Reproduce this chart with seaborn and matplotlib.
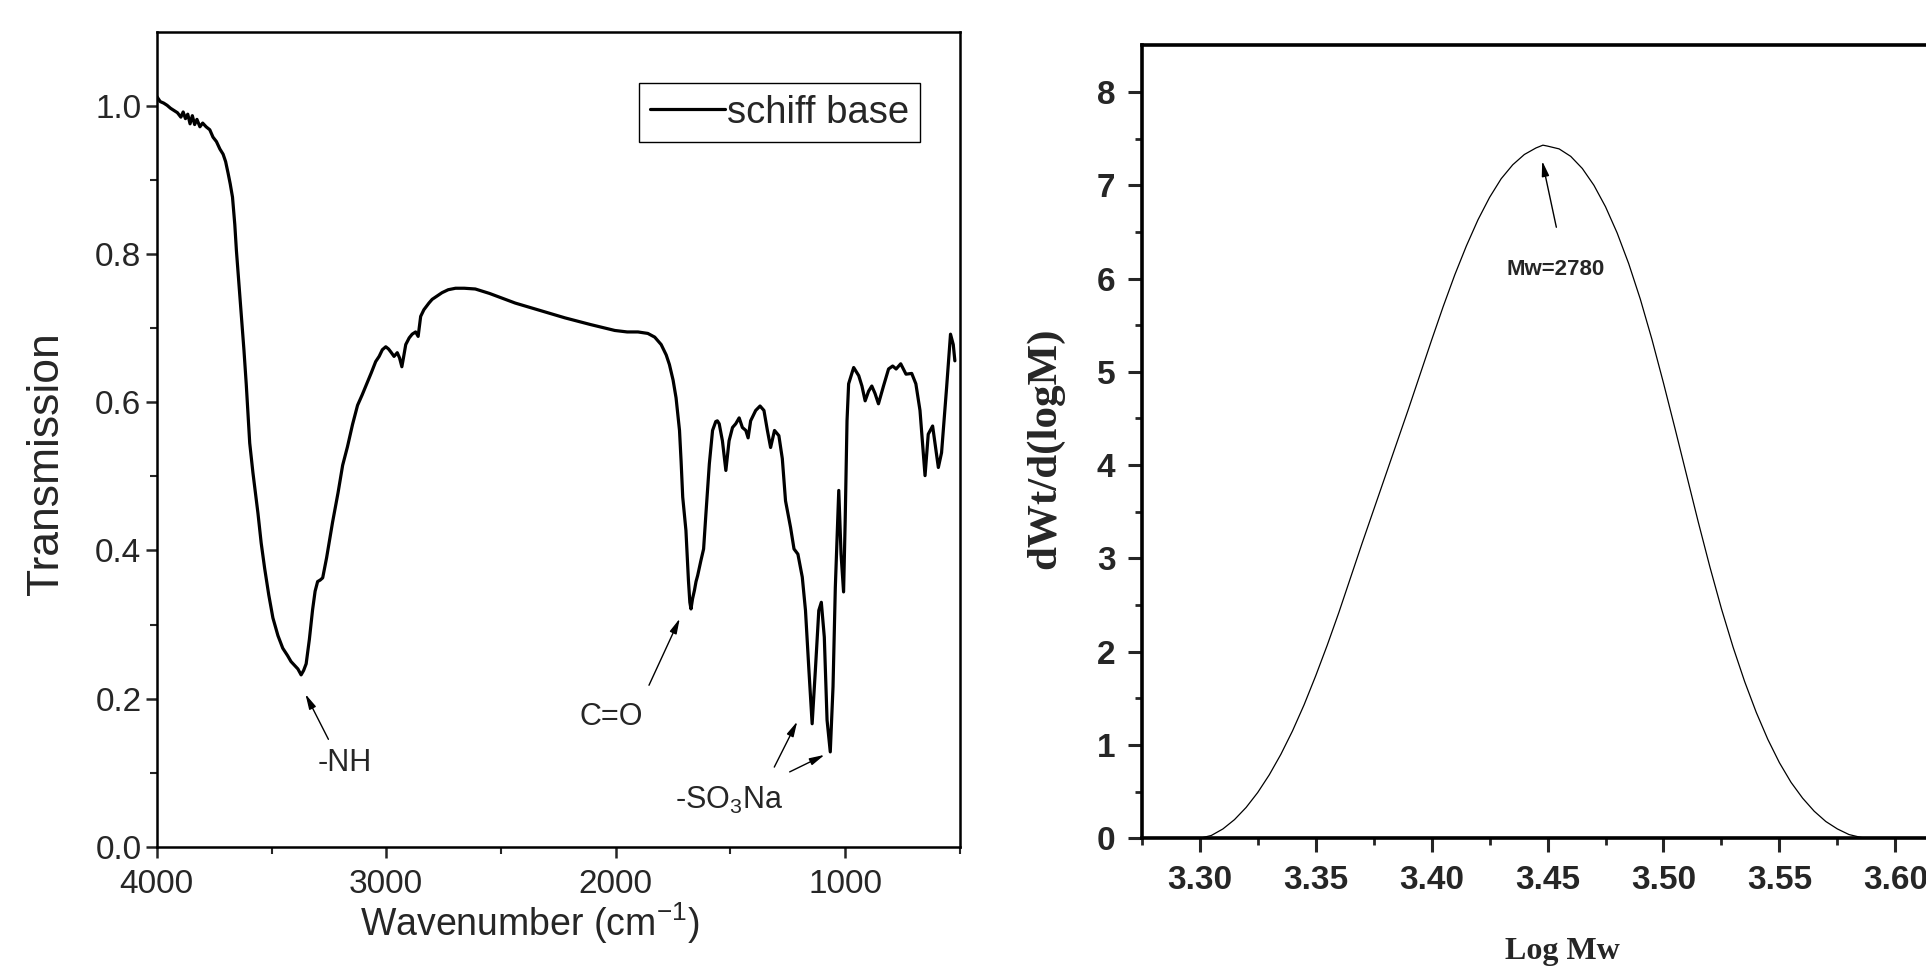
import numpy as np
import pandas as pd
import matplotlib
matplotlib.use("Agg")
import matplotlib.pyplot as plt
import seaborn as sns

# FTIR spectrum of the schiff base
wavenumber = [4000, 3985, 3970, 3955, 3940, 3925, 3910, 3895, 3885, 3875, 3865, 3855, 3845, 3835,
              3825, 3812, 3800, 3785, 3769, 3755, 3740, 3725, 3711, 3700, 3689, 3680, 3670, 3660,
              3653, 3642, 3631, 3620, 3610, 3595, 3581, 3570, 3559, 3545, 3530, 3512, 3494, 3472,
              3451, 3430, 3415, 3400, 3385, 3371, 3360, 3349, 3335, 3321, 3310, 3299, 3288, 3277,
              3260, 3234, 3210, 3190, 3169, 3147, 3125, 3105, 3089, 3065, 3046, 3031, 3017, 3002,
              2990, 2980, 2966, 2952, 2942, 2932, 2925, 2915, 2900, 2887, 2872, 2861, 2850, 2836,
              2814, 2800, 2771, 2757, 2730, 2698, 2660, 2612, 2550, 2438, 2330, 2221, 2110, 2004,
              1950, 1903, 1860, 1830, 1802, 1780, 1766, 1750, 1737, 1722, 1715, 1708, 1694, 1683,
              1677, 1672, 1665, 1657, 1650, 1643, 1629, 1617, 1607, 1592, 1578, 1564, 1557, 1549,
              1535, 1520, 1506, 1491, 1477, 1462, 1448, 1433, 1423, 1412, 1390, 1371, 1354, 1339,
              1325, 1308, 1289, 1274, 1260, 1238, 1223, 1206, 1187, 1173, 1158, 1144, 1130, 1115,
              1104, 1091, 1079, 1065, 1053, 1043, 1028, 1018, 1007, 1000, 992, 985, 963, 941,
              927, 913, 898, 884, 870, 855, 833, 811, 793, 778, 758, 735, 710, 692,
              674, 652, 638, 619, 594, 580, 558, 541, 529, 522]
transmission = [1.013, 1.006, 1.004, 1.001, 0.997, 0.994, 0.991, 0.985, 0.992, 0.983, 0.989, 0.976, 0.987, 0.975,
                0.982, 0.972, 0.977, 0.972, 0.968, 0.958, 0.952, 0.942, 0.935, 0.925, 0.909, 0.895, 0.877, 0.840,
                0.805, 0.760, 0.714, 0.670, 0.624, 0.545, 0.505, 0.478, 0.450, 0.410, 0.376, 0.340, 0.309, 0.285,
                0.268, 0.258, 0.250, 0.245, 0.240, 0.232, 0.238, 0.247, 0.280, 0.320, 0.345, 0.358, 0.360, 0.363,
                0.390, 0.438, 0.478, 0.515, 0.540, 0.570, 0.596, 0.610, 0.622, 0.640, 0.655, 0.662, 0.671, 0.675,
                0.672, 0.668, 0.662, 0.667, 0.660, 0.648, 0.660, 0.678, 0.687, 0.692, 0.695, 0.689, 0.716, 0.725,
                0.734, 0.739, 0.745, 0.748, 0.752, 0.754, 0.754, 0.753, 0.747, 0.734, 0.724, 0.714, 0.705, 0.697,
                0.695, 0.695, 0.693, 0.688, 0.678, 0.664, 0.651, 0.630, 0.606, 0.562, 0.520, 0.472, 0.427, 0.359,
                0.330, 0.321, 0.335, 0.346, 0.358, 0.366, 0.386, 0.402, 0.449, 0.517, 0.562, 0.574, 0.575, 0.571,
                0.548, 0.508, 0.548, 0.566, 0.571, 0.579, 0.566, 0.562, 0.552, 0.575, 0.589, 0.595, 0.589, 0.562,
                0.539, 0.562, 0.555, 0.524, 0.467, 0.431, 0.402, 0.395, 0.364, 0.319, 0.238, 0.166, 0.238, 0.319,
                0.330, 0.283, 0.171, 0.128, 0.216, 0.350, 0.481, 0.395, 0.344, 0.440, 0.575, 0.625, 0.647, 0.636,
                0.622, 0.602, 0.615, 0.622, 0.612, 0.598, 0.622, 0.645, 0.649, 0.645, 0.652, 0.638, 0.639, 0.625,
                0.589, 0.501, 0.557, 0.568, 0.512, 0.532, 0.620, 0.692, 0.678, 0.656]

# GPC molecular weight distribution
log_mw = [3.300, 3.305, 3.310, 3.315, 3.320, 3.325, 3.330, 3.335, 3.340, 3.345, 3.350, 3.355, 3.360,
          3.365, 3.370, 3.375, 3.380, 3.385, 3.390, 3.395, 3.400, 3.405, 3.410, 3.415, 3.420, 3.425,
          3.430, 3.435, 3.440, 3.445, 3.448, 3.450, 3.455, 3.460, 3.465, 3.470, 3.475, 3.480, 3.485,
          3.490, 3.495, 3.500, 3.505, 3.510, 3.515, 3.520, 3.525, 3.530, 3.535, 3.540, 3.545, 3.550,
          3.555, 3.560, 3.565, 3.570, 3.575, 3.580, 3.585, 3.588]
dwt = [0.00, 0.03, 0.10, 0.20, 0.33, 0.49, 0.68, 0.90, 1.15, 1.43, 1.74, 2.07, 2.42,
       2.79, 3.16, 3.52, 3.88, 4.24, 4.60, 4.97, 5.34, 5.70, 6.04, 6.35, 6.63, 6.87,
       7.07, 7.22, 7.33, 7.40, 7.43, 7.42, 7.39, 7.31, 7.18, 7.00, 6.77, 6.49, 6.16,
       5.78, 5.35, 4.88, 4.39, 3.89, 3.39, 2.91, 2.46, 2.05, 1.68, 1.35, 1.06, 0.81,
       0.60, 0.43, 0.29, 0.18, 0.10, 0.04, 0.01, 0.00]

ir = pd.DataFrame({"wavenumber": wavenumber, "transmission": transmission})
gpc = pd.DataFrame({"logmw": log_mw, "dwt": dwt})

sns.set_style("ticks")
plt.rcParams["font.family"] = ["Liberation Sans", "DejaVu Sans"]
plt.rcParams["mathtext.fontset"] = "custom"
plt.rcParams["mathtext.rm"] = "Liberation Sans"
plt.rcParams["mathtext.default"] = "regular"

fig = plt.figure(figsize=(19.26, 9.69), dpi=100)

# ---- left panel: FTIR
ax1 = fig.add_axes([0.0814, 0.1262, 0.4170, 0.8408])
sns.lineplot(data=ir, x="wavenumber", y="transmission", ax=ax1, sort=False,
             estimator=None, color="black", lw=2.3, label="schiff base")
ax1.set_xlim(4000, 515)
ax1.set_ylim(0, 1.1)
ax1.set_xticks([4000, 3000, 2000, 1000])
ax1.set_xticks([3500, 2500, 1500, 500], minor=True)
ax1.set_yticks([0, 0.2, 0.4, 0.6, 0.8, 1.0])
ax1.set_yticks([0.1, 0.3, 0.5, 0.7, 0.9], minor=True)
ax1.set_yticklabels(["0.0", "0.2", "0.4", "0.6", "0.8", "1.0"])
ax1.tick_params(which="major", direction="out", length=8, width=1.8, labelsize=24)
ax1.tick_params(axis="x", which="major", pad=8)
ax1.tick_params(axis="y", which="major", pad=3)
ax1.tick_params(which="minor", direction="out", length=5, width=1.5)
for s in ax1.spines.values():
    s.set_linewidth(1.8)
    s.set_color("black")
ax1.set_xlabel("Wavenumber (cm$^{-1}$)", fontsize=27)
ax1.set_ylabel("Transmission", fontsize=32)
ax1.xaxis.set_label_coords(0.465, -0.066)
ax1.yaxis.set_label_coords(-0.112, 0.47)
leg = ax1.legend(loc="upper right", bbox_to_anchor=(0.9505, 0.937), fontsize=27.5,
                 frameon=True, fancybox=False, edgecolor="black", framealpha=1,
                 borderpad=0.3, handlelength=1.95, handletextpad=0.05, borderaxespad=0)
leg.get_frame().set_linewidth(1.0)
for line in leg.get_lines():
    line.set_linewidth(2.3)

arrow = dict(arrowstyle="-|>,head_length=0.9,head_width=0.22", color="black", lw=1.0,
             shrinkA=0, shrinkB=0)
ax1.annotate("", xy=(3352, 0.206), xytext=(3252, 0.145), arrowprops=arrow)
ax1.text(3183, 0.113, "-NH", fontsize=22, ha="center", va="center")
ax1.annotate("", xy=(1721, 0.308), xytext=(1855, 0.218), arrowprops=arrow)
ax1.text(2020, 0.175, "C=O", fontsize=22, ha="center", va="center")
ax1.annotate("", xy=(1209, 0.169), xytext=(1309, 0.1075), arrowprops=arrow)
ax1.annotate("", xy=(1090, 0.124), xytext=(1242, 0.101), arrowprops=arrow)
ax1.text(1504, 0.062, "-SO$_3$Na", fontsize=22, ha="center", va="center")

# ---- right panel: GPC
ax2 = fig.add_axes([0.5928, 0.1349, 0.4214, 0.8183])
sns.lineplot(data=gpc, x="logmw", y="dwt", ax=ax2, sort=False, estimator=None,
             color="black", lw=0.9)
ax2.set_xlim(3.275, 3.625)
ax2.set_ylim(0, 8.5)
ax2.set_xticks([3.30, 3.35, 3.40, 3.45, 3.50, 3.55, 3.60])
ax2.set_xticklabels(["3.30", "3.35", "3.40", "3.45", "3.50", "3.55", "3.60"])
ax2.set_xticks([3.275, 3.325, 3.375, 3.425, 3.475, 3.525, 3.575], minor=True)
ax2.set_yticks(range(0, 9))
ax2.set_yticks([0.5 + i for i in range(8)], minor=True)
ax2.tick_params(which="major", direction="out", length=10, width=2.2, labelsize=24, pad=9)
ax2.tick_params(which="minor", direction="out", length=5, width=2.0)
for lab in ax2.get_xticklabels() + ax2.get_yticklabels():
    lab.set_fontweight("bold")
for s in ax2.spines.values():
    s.set_linewidth(2.6)
    s.set_color("black")
ax2.set_xlabel("Log Mw", fontsize=23, fontweight="bold", family="Liberation Serif")
ax2.set_ylabel("dWt/d(logM)", fontsize=31, fontweight="bold", family="Liberation Serif")
ax2.xaxis.set_label_coords(0.518, -0.124)
ax2.yaxis.set_label_coords(-0.095, 0.492)
ax2.annotate("", xy=(3.4477, 7.26), xytext=(3.4538, 6.55),
             arrowprops=dict(arrowstyle="-|>,head_length=0.9,head_width=0.22",
                             color="black", lw=1.0, shrinkA=0, shrinkB=0))
ax2.text(3.4533, 6.10, "Mw=2780", fontsize=16, fontweight="bold", ha="center", va="center")

fig.savefig("out.png", dpi=100)
